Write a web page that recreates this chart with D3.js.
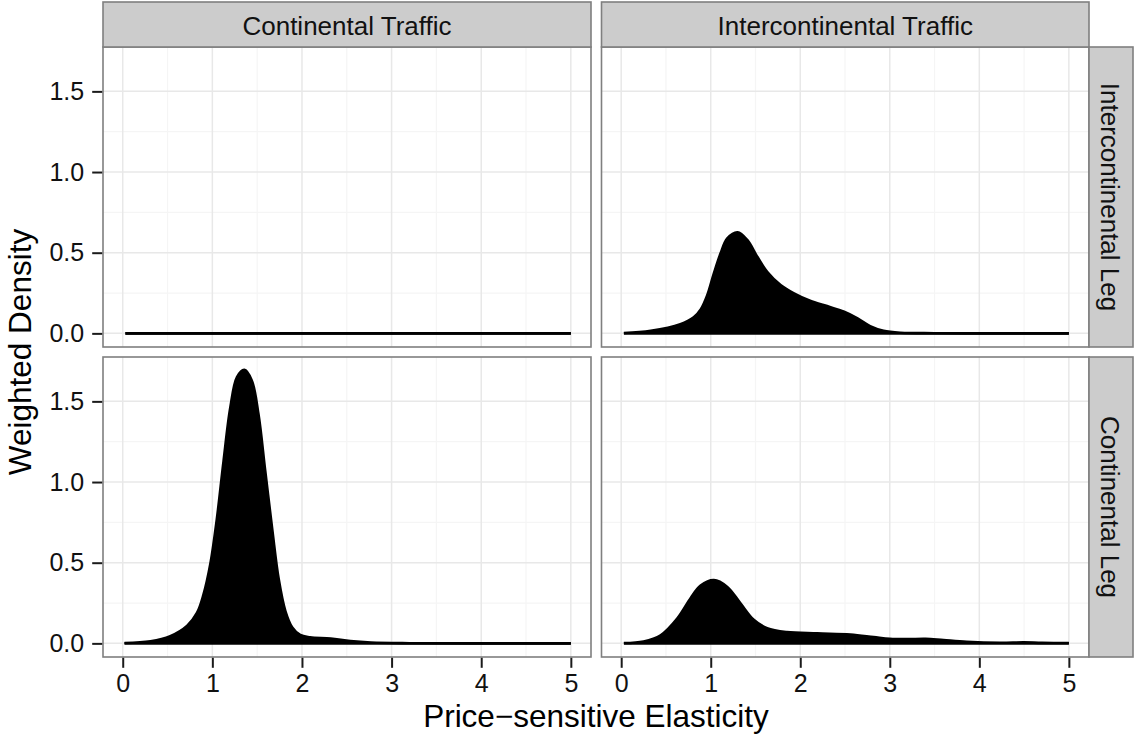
<!DOCTYPE html>
<html>
<head>
<meta charset="utf-8">
<script src="https://cdn.jsdelivr.net/npm/d3@7"></script>
<style>
  html, body { margin: 0; padding: 0; background: #fff; }
  svg { display: block; }
  text { font-family: "Liberation Sans", Arial, Helvetica, sans-serif; }
</style>
</head>
<body>
<svg id="chart" width="1135" height="737"></svg>
<script>
// ---- data ----
const colFacets = ["Continental Traffic", "Intercontinental Traffic"];
const rowFacets = ["Intercontinental Leg", "Continental Leg"];
const xTicks = [0, 1, 2, 3, 4, 5];
const xTickLabels = ["0", "1", "2", "3", "4", "5"];
const yTicks = [0, 0.5, 1.0, 1.5];
const yTickLabels = ["0.0", "0.5", "1.0", "1.5"];
const xMinor = [0.5, 1.5, 2.5, 3.5, 4.5];
const yMinor = [0.25, 0.75, 1.25];
const xTitle = "Price\u2212sensitive Elasticity";
const yTitle = "Weighted Density";

// Continental Traffic / Intercontinental Leg
const ctIlX = [0.03, 5.0];
const ctIlY = [0, 0];
// Intercontinental Traffic / Intercontinental Leg
const itIlX = [0.03, 0.33, 0.66, 0.81, 0.89, 0.96, 1.035, 1.11, 1.185, 1.3, 1.41, 1.52, 1.63, 1.78, 1.93, 2.11, 2.30, 2.49, 2.64, 2.78, 2.93, 3.12, 3.5, 4.0, 4.5, 5.0];
const itIlY = [0.002, 0.016, 0.057, 0.10, 0.15, 0.235, 0.372, 0.496, 0.589, 0.627, 0.578, 0.475, 0.382, 0.30, 0.248, 0.202, 0.169, 0.134, 0.093, 0.045, 0.016, 0.004, 0.001, 0, 0, 0];
// Continental Traffic / Continental Leg
const ctClX = [0.02, 0.31, 0.53, 0.72, 0.83, 0.90, 0.98, 1.05, 1.125, 1.20, 1.275, 1.357, 1.44, 1.515, 1.59, 1.67, 1.74, 1.815, 1.89, 1.98, 2.09, 2.32, 2.54, 2.77, 3.2, 4.0, 5.0];
const ctClY = [0.002, 0.013, 0.045, 0.11, 0.19, 0.30, 0.50, 0.77, 1.13, 1.46, 1.65, 1.695, 1.63, 1.42, 1.07, 0.70, 0.40, 0.20, 0.10, 0.052, 0.038, 0.03, 0.014, 0.005, 0.001, 0, 0];
// Intercontinental Traffic / Continental Leg
const itClX = [0.03, 0.25, 0.44, 0.63, 0.775, 0.887, 1.035, 1.185, 1.33, 1.48, 1.63, 1.85, 2.19, 2.56, 2.82, 3.0, 3.2, 3.4, 3.6, 3.86, 4.23, 4.5, 4.7, 5.0];
const itClY = [0.002, 0.012, 0.05, 0.157, 0.28, 0.358, 0.392, 0.35, 0.25, 0.146, 0.094, 0.07, 0.062, 0.055, 0.039, 0.028, 0.026, 0.028, 0.02, 0.01, 0.004, 0.006, 0.003, 0.002];

const panels = [
  { row: 0, col: 0, xs: ctIlX, ys: ctIlY },
  { row: 0, col: 1, xs: itIlX, ys: itIlY },
  { row: 1, col: 0, xs: ctClX, ys: ctClY },
  { row: 1, col: 1, xs: itClX, ys: itClY }
];

// ---- layout ----
const colX = [[103, 591], [601.5, 1089]];
const rowY = [[47, 347], [357, 657]];
const stripTop = 2, stripRight = 1133;
const xDomain = [-0.22, 5.225];
const yDomain = [-0.0845, 1.775];

const svg = d3.select("#chart");
const grey50 = "#7f7f7f";

const xScales = colX.map(r => d3.scaleLinear().domain(xDomain).range(r));
const yScales = rowY.map(r => d3.scaleLinear().domain(yDomain).range([r[1], r[0]]));
const curve = d3.curveCatmullRom.alpha(0.5);

// panels
panels.forEach(p => {
  const x = xScales[p.col], y = yScales[p.row];
  const [x0, x1] = colX[p.col], [y0, y1] = rowY[p.row];
  const g = svg.append("g");
  g.append("rect").attr("x", x0).attr("y", y0).attr("width", x1 - x0).attr("height", y1 - y0).attr("fill", "#fff");
  // minor grid
  g.selectAll(".xminor").data(xMinor).enter().append("line")
    .attr("x1", d => x(d)).attr("x2", d => x(d)).attr("y1", y0).attr("y2", y1)
    .attr("stroke", "#f5f5f5").attr("stroke-width", 1.2);
  g.selectAll(".yminor").data(yMinor).enter().append("line")
    .attr("y1", d => y(d)).attr("y2", d => y(d)).attr("x1", x0).attr("x2", x1)
    .attr("stroke", "#f5f5f5").attr("stroke-width", 1.2);
  // major grid
  g.selectAll(".xmajor").data(xTicks).enter().append("line")
    .attr("x1", d => x(d)).attr("x2", d => x(d)).attr("y1", y0).attr("y2", y1)
    .attr("stroke", "#e8e8e8").attr("stroke-width", 1.5);
  g.selectAll(".ymajor").data(yTicks).enter().append("line")
    .attr("y1", d => y(d)).attr("y2", d => y(d)).attr("x1", x0).attr("x2", x1)
    .attr("stroke", "#e8e8e8").attr("stroke-width", 1.5);

  const pts = p.xs.map((v, i) => [v, p.ys[i]]);
  const area = d3.area().x(d => x(d[0])).y0(y(0)).y1(d => y(d[1])).curve(curve);
  const line = d3.line().x(d => x(d[0])).y(d => y(d[1])).curve(curve);
  g.append("path").attr("d", area(pts)).attr("fill", "#000");
  g.append("path").attr("d", line(pts)).attr("fill", "none").attr("stroke", "#000")
    .attr("stroke-width", 2.6).attr("stroke-linecap", "butt");
  g.append("line").attr("x1", x(p.xs[0])).attr("x2", x(p.xs[p.xs.length-1]))
    .attr("y1", y(0)).attr("y2", y(0)).attr("stroke", "#000").attr("stroke-width", 2.6);

  g.append("rect").attr("x", x0).attr("y", y0).attr("width", x1 - x0).attr("height", y1 - y0)
    .attr("fill", "none").attr("stroke", grey50).attr("stroke-width", 1.6);
});

// top strips
colFacets.forEach((name, c) => {
  const [x0, x1] = colX[c];
  svg.append("rect").attr("x", x0).attr("y", stripTop).attr("width", x1 - x0).attr("height", rowY[0][0] - stripTop)
    .attr("fill", "#cccccc").attr("stroke", grey50).attr("stroke-width", 1.6);
  svg.append("text").attr("x", (x0 + x1) / 2).attr("y", (stripTop + rowY[0][0]) / 2 + 1)
    .attr("text-anchor", "middle").attr("dominant-baseline", "central")
    .attr("font-size", 26).attr("fill", "#111").text(name);
});
// right strips
rowFacets.forEach((name, r) => {
  const [y0, y1] = rowY[r];
  const x0 = colX[1][1];
  svg.append("rect").attr("x", x0).attr("y", y0).attr("width", stripRight - x0).attr("height", y1 - y0)
    .attr("fill", "#cccccc").attr("stroke", grey50).attr("stroke-width", 1.6);
  const cx = (x0 + stripRight) / 2 - 1, cy = (y0 + y1) / 2;
  svg.append("text").attr("transform", `translate(${cx},${cy}) rotate(90)`)
    .attr("text-anchor", "middle").attr("dominant-baseline", "central")
    .attr("font-size", 26).attr("fill", "#111").text(name);
});

// y axes (left column only)
rowY.forEach((ry, r) => {
  const y = yScales[r];
  const ax = d3.axisLeft(y).tickValues(yTicks).tickSize(10).tickPadding(8)
    .tickFormat((d, i) => yTickLabels[i]);
  const g = svg.append("g").attr("transform", `translate(${colX[0][0] - 0.8},0)`).call(ax);
  g.select(".domain").remove();
  g.selectAll(".tick line").attr("stroke", "#1a1a1a").attr("stroke-width", 2);
  g.selectAll(".tick text").attr("font-size", 25).attr("fill", "#111")
    .attr("font-family", "'Liberation Sans', Arial, sans-serif");
});
// x axes (bottom row)
colX.forEach((cx, c) => {
  const x = xScales[c];
  const ax = d3.axisBottom(x).tickValues(xTicks).tickSize(10).tickPadding(6)
    .tickFormat((d, i) => xTickLabels[i]);
  const g = svg.append("g").attr("transform", `translate(0,${rowY[1][1] + 0.8})`).call(ax);
  g.select(".domain").remove();
  g.selectAll(".tick line").attr("stroke", "#1a1a1a").attr("stroke-width", 2);
  g.selectAll(".tick text").attr("font-size", 25).attr("fill", "#111")
    .attr("font-family", "'Liberation Sans', Arial, sans-serif");
});

// axis titles
svg.append("text").attr("x", (colX[0][0] + colX[1][1]) / 2).attr("y", 727)
  .attr("text-anchor", "middle").attr("font-size", 31.5).attr("fill", "#000").text(xTitle);
svg.append("text").attr("transform", `translate(31,${(rowY[0][0] + rowY[1][1]) / 2}) rotate(-90)`)
  .attr("text-anchor", "middle").attr("font-size", 31.5).attr("fill", "#000").text(yTitle);
</script>
</body>
</html>
